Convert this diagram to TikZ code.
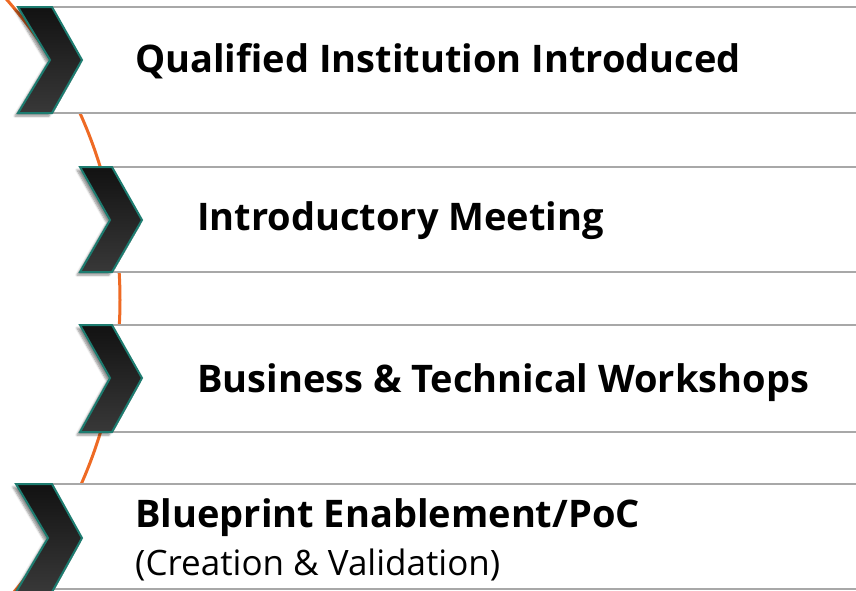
\documentclass[tikz,border=0pt]{standalone}
\usepackage{fontspec}
\setmainfont{Open Sans}
\usetikzlibrary{positioning,shadows.blur}

\definecolor{arcorange}{HTML}{EE6A24}
\definecolor{chevteal}{HTML}{1D7C70}
\definecolor{rulegray}{HTML}{A8A8A8}

\begin{document}
\begin{tikzpicture}[
    x=1pt, y=-1pt,
    arcline/.style={line width=3pt, arcorange},
    rowline/.style={line width=2.5pt, rulegray},
    chevron/.style={line width=2pt, chevteal, top color=black!93, bottom color=black!78,
        blur shadow={shadow xshift=-3pt, shadow yshift=-3pt, shadow blur steps=6, shadow opacity=45}},
    steptext/.style={anchor=base west, inner sep=0pt, font=\fontsize{38}{44}\selectfont\bfseries},
    subtext/.style={anchor=base west, inner sep=0pt, font=\fontsize{35}{40}\selectfont},
]
\useasboundingbox (0,0) rectangle (856,590);

% === Orange guide arc (behind the rows) ===
\draw[arcline] (-335,300) circle[radius=455pt];

% === Step 1 ===
\fill[white] (52,7) rectangle (870,113);
\draw[rowline] (52,7) -- (870,7);
\draw[rowline] (52,113) -- (870,113);
\filldraw[chevron] (18,7) -- (52,7) -- (82,60) -- (52,113) -- (18,113) -- (50,60) -- cycle;
\node[steptext] (step1) at (135,72) {Qualified Institution Introduced};

% === Step 2 ===
\fill[white] (112,167) rectangle (870,272);
\draw[rowline] (112,167) -- (870,167);
\draw[rowline] (112,272) -- (870,272);
\filldraw[chevron] (80,167) -- (112,167) -- (142,220) -- (112,272) -- (80,272) -- (110,220) -- cycle;
\node[steptext] (step2) at (197,230) {Introductory Meeting};

% === Step 3 ===
\fill[white] (112,325) rectangle (870,432);
\draw[rowline] (112,325) -- (870,325);
\draw[rowline] (112,432) -- (870,432);
\filldraw[chevron] (80,325) -- (112,325) -- (142,378) -- (112,432) -- (80,432) -- (110,378) -- cycle;
\node[steptext] (step3) at (197,392) {Business \& Technical Workshops};

% === Step 4 ===
\fill[white] (52,484) rectangle (870,589);
\draw[rowline] (52,484) -- (870,484);
\draw[rowline] (52,589) -- (870,589);
\filldraw[chevron] (16,484) -- (52,484) -- (82,538) -- (52,592) -- (16,592) -- (48,538) -- cycle;
\node[steptext] (step4) at (135,527) {Blueprint Enablement/PoC};
\node[subtext] (step4sub) at (135,575) {(Creation \& Validation)};

\end{tikzpicture}
\end{document}
